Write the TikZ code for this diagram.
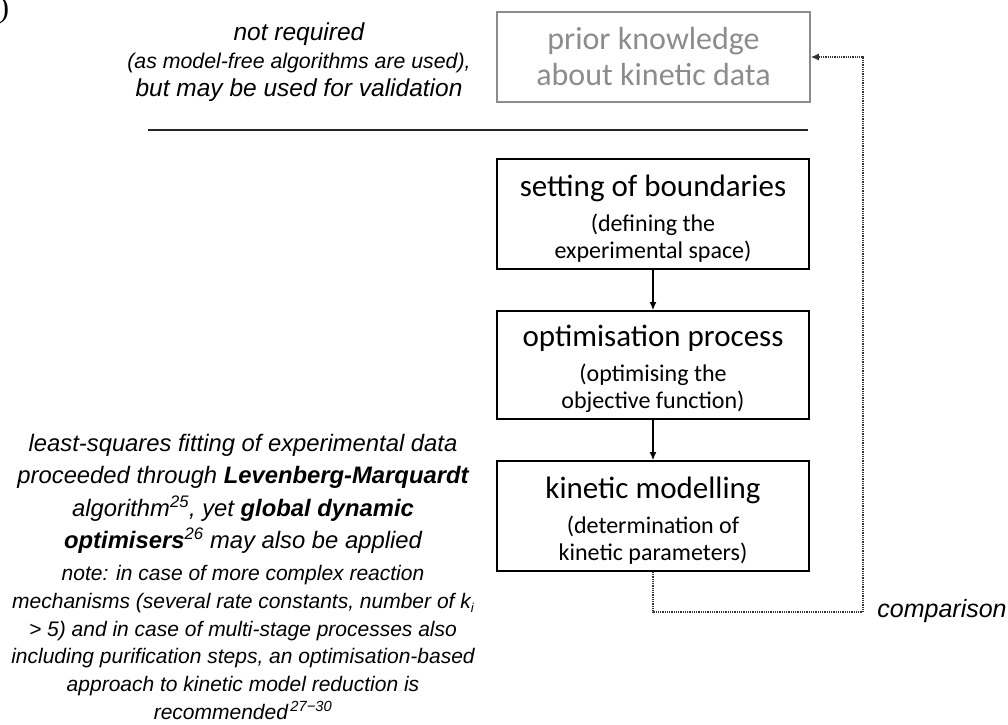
\documentclass[tikz,border=0pt]{standalone}
\usepackage{fontspec}
\setmainfont{Liberation Sans}
\newfontfamily\boxfont{Carlito}
\newfontfamily\parenfont{Liberation Serif}
\usetikzlibrary{arrows.meta}
\definecolor{priorgray}{HTML}{8C8C8C}
\begin{document}
\begin{tikzpicture}[x=1pt,y=-1pt,
  stepbox/.style={draw, line width=2pt, minimum width=312pt, minimum height=110pt, align=center, inner sep=0pt, font=\boxfont\fontsize{24}{27}\selectfont},
  priorbox/.style={draw=priorgray, text=priorgray, line width=1.8pt, minimum width=313pt, minimum height=90pt, align=center, inner sep=0pt, font=\boxfont\fontsize{32}{36}\selectfont},
  flow/.style={line width=1.1pt, -{Latex[length=8pt,width=7pt]}},
  dotline/.style={line width=1.1pt, black!80, dash pattern=on 1pt off 0.8pt},
]
\useasboundingbox (0,0) rectangle (1008,724);

\node[font=\parenfont\fontsize{30}{30}\selectfont, anchor=base west, inner sep=0pt] (paren) at (-1,17) {)};

\node[priorbox] (prior) at (653.5,57) {prior knowledge\\about kinetic data};

\node[align=center, inner sep=0pt, anchor=north, font=\itshape\fontsize{24.5}{28}\selectfont] (notreq) at (299,23) {not required\\
{\fontsize{21.3}{28}\selectfont (as model-free algorithms are used),}\\
but may be used for validation};

\coordinate (hl) at (148,130);
\coordinate (hr) at (808,130);
\draw[line width=1.5pt, black!85] (hl) -- (hr);

\node[stepbox] (set) at (653,214) {\rule{0pt}{30pt}{\fontsize{31}{30}\selectfont setting of boundaries}\\[8pt](defining the\\experimental space)};
\node[stepbox, minimum height=108pt] (opt) at (653,365) {\rule{0pt}{30pt}{\fontsize{31}{30}\selectfont optimisation process}\\[8pt](optimising the\\objective function)};
\node[stepbox] (kin) at (653,516) {\rule{0pt}{30pt}{\fontsize{31}{30}\selectfont kinetic modelling}\\[8pt](determination of\\kinetic parameters)};

\draw[flow] (set) -- (opt);
\draw[flow] (opt) -- (kin);

\coordinate (c1) at (863,612);
\draw[dotline, -{Latex[length=8pt,width=7pt]}] (kin.south) |- (c1) |- (prior.east);

\node[inner sep=0pt, font=\itshape\fontsize{25}{28}\selectfont] (comp) at (942,611) {comparison};

\node[align=center, inner sep=0pt, anchor=north, font=\itshape\fontsize{23.8}{32.5}\selectfont] (lsq) at (243,434) {least-squares fitting of experimental data\\
proceeded through \textbf{Levenberg-Marquardt}\\
algorithm\textsuperscript{25}, yet \textbf{global dynamic}\\
\textbf{optimisers}\textsuperscript{26} may also be applied};

\node[align=center, inner sep=0pt, anchor=north, font=\itshape\fontsize{21}{27.8}\selectfont] (nt) at (243,565) {note: in case of more complex reaction\\
mechanisms (several rate constants, number of k\raisebox{-0.35ex}{\fontsize{13}{13}\selectfont i}\\
{>} 5) and in case of multi-stage processes also\\
including purification steps, an optimisation-based\\
approach to kinetic model reduction is\\
recommended\textsuperscript{\,27\textminus30}};
\end{tikzpicture}
\end{document}
